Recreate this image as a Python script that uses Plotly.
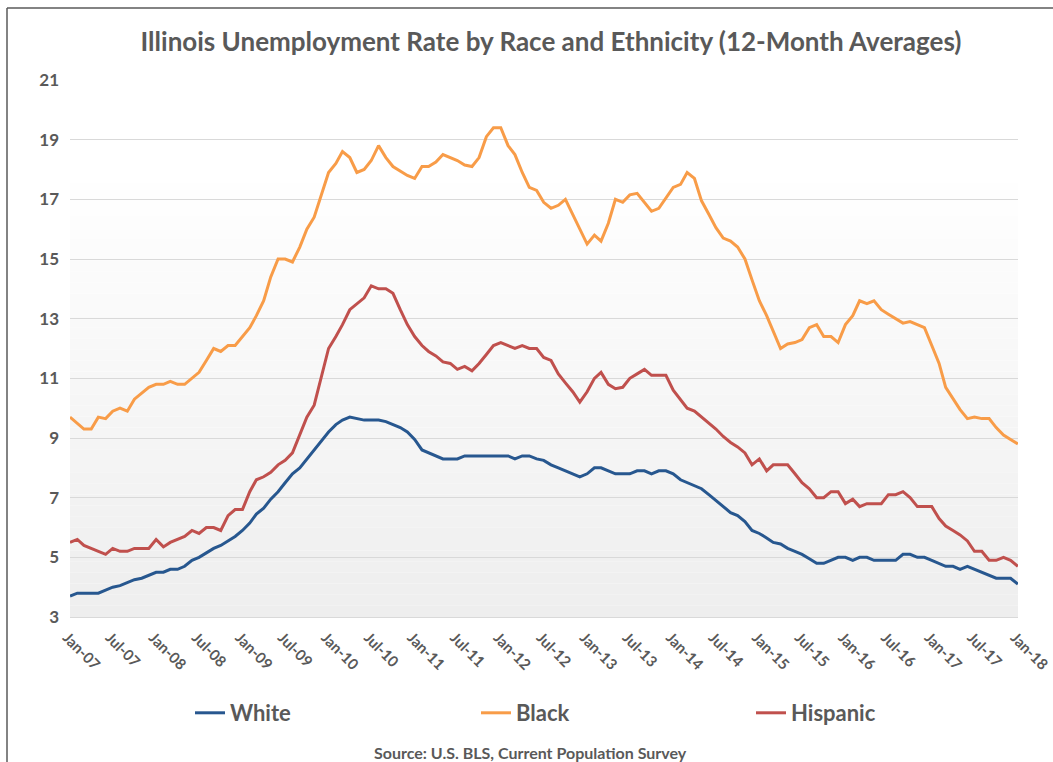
import pandas as pd
import plotly.graph_objects as go

# ---- data (monthly 12-month averages, Jan-2007 .. Jan-2018) ----
start_month = "2007-01-01"
n_months = 133

white = [3.7, 3.8, 3.8, 3.8, 3.8, 3.9, 4.0, 4.05, 4.15, 4.25, 4.3, 4.4,
         4.5, 4.5, 4.6, 4.6, 4.7, 4.9, 5.0, 5.15, 5.3, 5.4, 5.55, 5.7,
         5.9, 6.15, 6.45, 6.65, 6.95, 7.2, 7.5, 7.8, 8.0, 8.3, 8.6, 8.9,
         9.2, 9.45, 9.6, 9.7, 9.65, 9.6, 9.6, 9.6, 9.55, 9.45, 9.35, 9.2,
         8.95, 8.6, 8.5, 8.4, 8.3, 8.3, 8.3, 8.4, 8.4, 8.4, 8.4, 8.4,
         8.4, 8.4, 8.3, 8.4, 8.4, 8.3, 8.25, 8.1, 8.0, 7.9, 7.8, 7.7,
         7.8, 8.0, 8.0, 7.9, 7.8, 7.8, 7.8, 7.9, 7.9, 7.8, 7.9, 7.9,
         7.8, 7.6, 7.5, 7.4, 7.3, 7.1, 6.9, 6.7, 6.5, 6.4, 6.2, 5.9,
         5.8, 5.65, 5.5, 5.45, 5.3, 5.2, 5.1, 4.95, 4.8, 4.8, 4.9, 5.0,
         5.0, 4.9, 5.0, 5.0, 4.9, 4.9, 4.9, 4.9, 5.1, 5.1, 5.0, 5.0,
         4.9, 4.8, 4.7, 4.7, 4.6, 4.7, 4.6, 4.5, 4.4, 4.3, 4.3, 4.3,
         4.1]

black = [9.7, 9.5, 9.3, 9.3, 9.7, 9.65, 9.9, 10.0, 9.9, 10.3, 10.5, 10.7,
         10.8, 10.8, 10.9, 10.8, 10.8, 11.0, 11.2, 11.6, 12.0, 11.9, 12.1, 12.1,
         12.4, 12.7, 13.1, 13.6, 14.4, 15.0, 15.0, 14.9, 15.4, 16.0, 16.4, 17.1,
         17.9, 18.2, 18.6, 18.4, 17.9, 18.0, 18.3, 18.8, 18.4, 18.1, 17.95, 17.8,
         17.7, 18.1, 18.1, 18.25, 18.5, 18.4, 18.3, 18.15, 18.1, 18.4, 19.1, 19.4,
         19.4, 18.8, 18.5, 17.9, 17.4, 17.3, 16.9, 16.7, 16.8, 17.0, 16.5, 16.0,
         15.5, 15.8, 15.6, 16.2, 17.0, 16.9, 17.15, 17.2, 16.9, 16.6, 16.7, 17.05,
         17.4, 17.5, 17.9, 17.7, 16.95, 16.5, 16.05, 15.7, 15.6, 15.4, 15.0, 14.3,
         13.6, 13.1, 12.6, 12.0, 12.15, 12.2, 12.3, 12.7, 12.8, 12.4, 12.4, 12.2,
         12.8, 13.1, 13.6, 13.5, 13.6, 13.3, 13.15, 13.0, 12.85, 12.9, 12.8, 12.7,
         12.1, 11.5, 10.7, 10.3, 9.95, 9.65, 9.7, 9.65, 9.65, 9.35, 9.1, 8.95,
         8.8]

hispanic = [5.5, 5.6, 5.4, 5.3, 5.2, 5.1, 5.3, 5.2, 5.2, 5.3, 5.3, 5.3,
            5.6, 5.35, 5.5, 5.6, 5.7, 5.9, 5.8, 6.0, 6.0, 5.9, 6.4, 6.6,
            6.6, 7.2, 7.6, 7.7, 7.85, 8.1, 8.25, 8.5, 9.1, 9.7, 10.1, 11.0,
            12.0, 12.4, 12.8, 13.3, 13.5, 13.7, 14.1, 14.0, 14.0, 13.85, 13.3, 12.8,
            12.4, 12.1, 11.9, 11.75, 11.55, 11.5, 11.3, 11.4, 11.25, 11.5, 11.8, 12.1,
            12.2, 12.1, 12.0, 12.1, 12.0, 12.0, 11.7, 11.6, 11.15, 10.85, 10.55, 10.2,
            10.55, 11.0, 11.2, 10.8, 10.65, 10.7, 11.0, 11.15, 11.3, 11.1, 11.1, 11.1,
            10.6, 10.3, 10.0, 9.9, 9.7, 9.5, 9.3, 9.05, 8.85, 8.7, 8.5, 8.1,
            8.3, 7.9, 8.1, 8.1, 8.1, 7.8, 7.5, 7.3, 7.0, 7.0, 7.2, 7.2,
            6.8, 6.95, 6.7, 6.8, 6.8, 6.8, 7.1, 7.1, 7.2, 7.0, 6.7, 6.7,
            6.7, 6.3, 6.05, 5.9, 5.75, 5.55, 5.2, 5.2, 4.9, 4.9, 5.0, 4.9,
            4.7]

series_names = ["White", "Black", "Hispanic"]
y_ticks = [3, 5, 7, 9, 11, 13, 15, 17, 19, 21]

months = pd.date_range(start_month, periods=n_months, freq="MS")

# ---- styling ----
FONT = "Lato, 'Open Sans', Arial, sans-serif"
GREY = "#595959"
colors = {"White": "#27578f", "Black": "#f89c48", "Hispanic": "#c0504d"}

W, H = 1053, 762
L, R, T, B = 70, 35, 80, 145

fig = go.Figure()
legend_ids = {"White": "legend", "Black": "legend2", "Hispanic": "legend3"}
for name, vals in zip(series_names, [white, black, hispanic]):
    fig.add_trace(go.Scatter(
        x=months, y=vals, mode="lines", name=name,
        line=dict(color=colors[name], width=3),
        legend=legend_ids[name],
        hovertemplate="%{x|%b-%y}: %{y}<extra>" + name + "</extra>",
    ))

# gradient background of plot area (white at top -> light grey at bottom)
n_bands = 40
grad_top = 0.83
for i in range(n_bands):
    y0 = grad_top * i / n_bands
    y1 = grad_top * (i + 1) / n_bands
    t = (i + 0.5) / n_bands  # 0 bottom -> 1 top
    c = int(round(238 + (255 - 238) * t))
    fig.add_shape(type="rect", xref="x domain", yref="y domain",
                  x0=0, x1=1, y0=y0, y1=y1, layer="below",
                  line=dict(width=0), fillcolor=f"rgb({c},{c},{c})")

pw = W - L - R
ph = H - T - B
def px_to_paper_x(px):
    return (px - L) / pw
def px_to_paper_y(py):
    return (H - B - py) / ph

# outer chart frame (top and left edges visible)
fig.add_shape(type="line", xref="paper", yref="paper",
              x0=px_to_paper_x(7), x1=px_to_paper_x(1060),
              y0=px_to_paper_y(8), y1=px_to_paper_y(8),
              line=dict(color="#5a5a5a", width=1.5))
fig.add_shape(type="line", xref="paper", yref="paper",
              x0=px_to_paper_x(7), x1=px_to_paper_x(7),
              y0=px_to_paper_y(8), y1=px_to_paper_y(770),
              line=dict(color="#5a5a5a", width=1.5))

legend_style = dict(font=dict(family=FONT, size=22, color=GREY, weight="bold"),
                    bgcolor="rgba(0,0,0,0)", yanchor="middle", xanchor="left",
                    orientation="h", itemwidth=30)
legend_y = px_to_paper_y(713)

x_end = months[-1] + pd.Timedelta(hours=12)

fig.update_layout(
    width=W, height=H,
    margin=dict(l=L, r=R, t=T, b=B, autoexpand=False),
    paper_bgcolor="white", plot_bgcolor="white",
    title=dict(text="<b>Illinois Unemployment Rate by Race and Ethnicity (12-Month Averages)</b>",
               font=dict(family=FONT, size=26, color=GREY),
               x=551 / W, xanchor="center", xref="container",
               y=1 - 42 / H, yanchor="middle", yref="container"),
    legend=dict(x=px_to_paper_x(190), y=legend_y, **legend_style),
    legend2=dict(x=px_to_paper_x(476), y=legend_y, **legend_style),
    legend3=dict(x=px_to_paper_x(751), y=legend_y, **legend_style),
    xaxis=dict(
        type="date",
        range=[months[0], x_end],
        tickvals=list(months[::6]),
        tickformat="%b-%y",
        tickangle=45, showgrid=False, automargin=False,
        ticklabeloverflow="allow", ticklabelshift=-3,
        showline=True, linecolor="#d9d9d9", linewidth=1,
        ticks="", ticklabelstandoff=5,
        tickfont=dict(family=FONT, size=15, color=GREY, weight="bold"),
        fixedrange=True,
    ),
    yaxis=dict(
        range=[3, 21], tickvals=y_ticks, automargin=False,
        showgrid=True, gridcolor="#d9d9d9", gridwidth=1,
        zeroline=False, ticks="", ticklabelstandoff=10,
        tickfont=dict(family=FONT, size=17, color=GREY, weight="bold"),
        fixedrange=True,
    ),
    showlegend=True,
)

fig.add_annotation(text="<b>Source: U.S. BLS, Current Population Survey</b>",
                   xref="paper", yref="paper",
                   x=px_to_paper_x(530), y=px_to_paper_y(752),
                   xanchor="center", yanchor="middle", showarrow=False,
                   font=dict(family=FONT, size=16, color=GREY))

fig.write_html("out.html")
